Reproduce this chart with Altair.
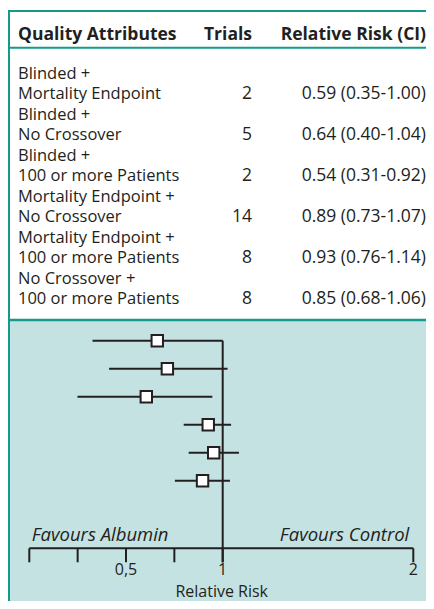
import math
import altair as alt
import pandas as pd

# ---- data ----
labels_line1 = ["Blinded +", "Blinded +", "Blinded +", "Mortality Endpoint +",
                "Mortality Endpoint +", "No Crossover +"]
labels_line2 = ["Mortality Endpoint", "No Crossover", "100 or more Patients",
                "No Crossover", "100 or more Patients", "100 or more Patients"]
trials = [2, 5, 2, 14, 8, 8]
rr = [0.59, 0.64, 0.54, 0.89, 0.93, 0.85]
ci_low = [0.35, 0.40, 0.31, 0.73, 0.76, 0.68]
ci_high = [1.00, 1.04, 0.92, 1.07, 1.14, 1.06]
axis_ticks = [0, 0.25, 0.5, 0.75, 1, 2]
axis_labels = {0.5: "0,5", 1: "1", 2: "2"}

rows = pd.DataFrame({
    "row": list(range(len(rr))),
    "l1": labels_line1,
    "l2": labels_line2,
    "trials": [str(t) for t in trials],
    "rr": rr,
    "lo": ci_low,
    "hi": ci_high,
    "ci": [f"{a:.2f} ({b:.2f}-{c:.2f})" for a, b, c in zip(rr, ci_low, ci_high)],
})
ticks = pd.DataFrame({"v": axis_ticks})
tlabels = pd.DataFrame({"v": list(axis_labels.keys()), "t": list(axis_labels.values())})

W, H = 418, 593
TEAL = "#139a8b"
BG = "#c5e2e2"
INK = "#231f20"
FONT = "Open Sans"
FS = 16.5
FSN = 17.5

one = pd.DataFrame({"a": [0]})

# table y scales (line 1 / line 2 baselines)
y1 = alt.Y("row:Q", scale=alt.Scale(domain=[0, 5], range=[71.3, 276.3]), axis=None)
y2 = alt.Y("row:Q", scale=alt.Scale(domain=[0, 5], range=[91.3, 296.3]), axis=None)
# forest scales
yf = alt.Y("row:Q", scale=alt.Scale(domain=[0, 5], range=[332.7, 472.7]), axis=None)
PX = 124.0
X1 = 214.7
xlog = alt.Scale(type="log", domain=[0.2, 3],
                 range=[X1 + PX * math.log(0.2), X1 + PX * math.log(3)])
xax = alt.Scale(domain=[0, 1, 2], range=[21.3, 214.7, 405.3])

bg = alt.Chart(one).mark_rect(fill=BG).encode(
    x=alt.value(0), x2=alt.value(W), y=alt.value(312), y2=alt.value(H))

def hrule(y, w):
    return alt.Chart(one).mark_rule(color=TEAL, strokeWidth=w).encode(
        x=alt.value(0), x2=alt.value(W), y=alt.value(y))

top = hrule(3, 2)
under = hrule(39.8, 2)
sep = hrule(312, 2.5)
left = alt.Chart(one).mark_rule(color=TEAL, strokeWidth=3).encode(
    x=alt.value(0.5), y=alt.value(2), y2=alt.value(H))

def htext(txt, x, align):
    return alt.Chart(one).mark_text(font=FONT, fontSize=17.5, fontWeight="bold",
                                    color=INK, align=align, baseline="alphabetic",
                                    text=txt).encode(x=alt.value(x), y=alt.value(31.5))

h1 = htext("Quality Attributes", 10, "left")
h2 = htext("Trials", 244, "right")
h3 = htext("Relative Risk (CI)", 418, "right")

base = alt.Chart(rows)
tl1 = base.mark_text(font=FONT, fontSize=FS, color=INK, align="left",
                     baseline="alphabetic").encode(x=alt.value(10), y=y1, text="l1:N")
tl2 = base.mark_text(font=FONT, fontSize=FS, color=INK, align="left",
                     baseline="alphabetic").encode(x=alt.value(10), y=y2, text="l2:N")
ttr = base.mark_text(font=FONT, fontSize=FSN, color=INK, align="right",
                     baseline="alphabetic").encode(x=alt.value(244), y=y2, text="trials:N")
tci = base.mark_text(font=FONT, fontSize=FSN, color=INK, align="right",
                     baseline="alphabetic").encode(x=alt.value(418), y=y2, text="ci:N")

whisk = base.mark_rule(color=INK, strokeWidth=2).encode(
    x=alt.X("lo:Q", scale=xlog, axis=None), x2="hi:Q", y=yf)
sq = base.mark_point(shape="square", filled=True, fill="white", stroke=INK,
                     strokeWidth=2, size=130, opacity=1).encode(
    x=alt.X("rr:Q", scale=xlog, axis=None), y=yf)

vline = alt.Chart(one).mark_rule(color=INK, strokeWidth=2).encode(
    x=alt.X("d:Q", scale=xax, axis=None), y=alt.value(332.7), y2=alt.value(554.3)
).transform_calculate(d="1")
axline = alt.Chart(one).mark_rule(color=INK, strokeWidth=2).encode(
    x=alt.X("s:Q", scale=xax, axis=None), x2="e:Q", y=alt.value(540.3)
).transform_calculate(s="0", e="2")
tk = alt.Chart(ticks).mark_rule(color=INK, strokeWidth=2).encode(
    x=alt.X("v:Q", scale=xax, axis=None), y=alt.value(540.3), y2=alt.value(554.3))
tkl = alt.Chart(tlabels).mark_text(font=FONT, fontSize=16, color=INK, align="center",
                                   baseline="alphabetic").encode(
    x=alt.X("v:Q", scale=xax, axis=None), y=alt.value(567), text="t:N")
xtitle = alt.Chart(one).mark_text(font=FONT, fontSize=16, color=INK, align="center",
                                  baseline="alphabetic", text="Relative Risk").encode(
    x=alt.value(213.7), y=alt.value(589))
fav1 = alt.Chart(one).mark_text(font=FONT, fontSize=18.5, fontStyle="italic", color=INK,
                                align="left", baseline="alphabetic",
                                text="Favours Albumin").encode(
    x=alt.value(23.7), y=alt.value(533))
fav2 = alt.Chart(one).mark_text(font=FONT, fontSize=18.5, fontStyle="italic", color=INK,
                                align="right", baseline="alphabetic",
                                text="Favours Control").encode(
    x=alt.value(401.3), y=alt.value(533))

chart = alt.layer(
    bg, top, under, sep, left, h1, h2, h3, tl1, tl2, ttr, tci,
    whisk, vline, axline, tk, tkl, xtitle, fav1, fav2, sq
).resolve_scale(x="independent", y="independent").properties(
    width=W, height=H, padding=0, autosize=alt.AutoSizeParams(type="none")
).configure_view(stroke=None)

chart.save("out.html", embed_options={"renderer": "svg", "actions": False})
